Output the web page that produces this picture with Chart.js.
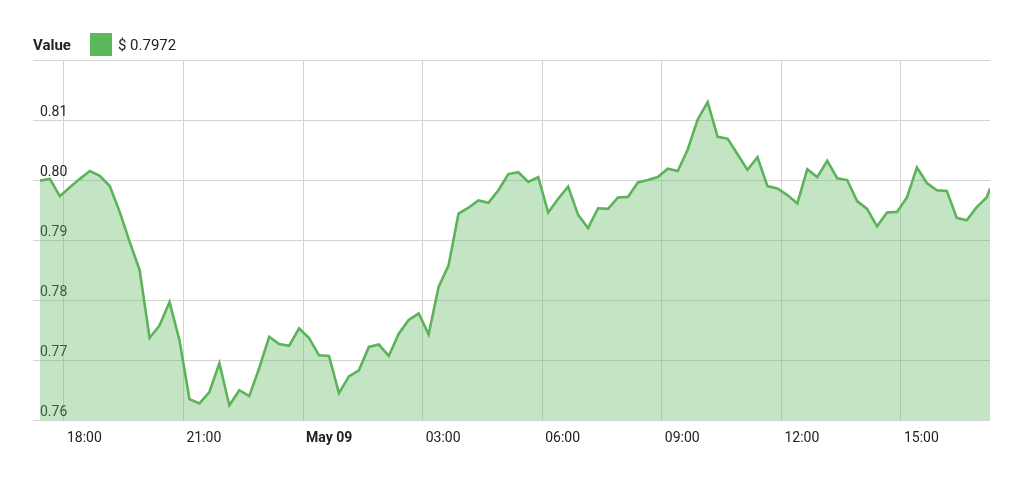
<!DOCTYPE html>
<html>
<head>
<meta charset="utf-8">
<script src="https://cdn.jsdelivr.net/npm/chart.js@4/dist/chart.umd.min.js"></script>
<style>
  html, body { margin: 0; padding: 0; background: #fff; }
  #wrap { position: relative; width: 1024px; height: 480px; }
  #legend { position: absolute; left: 33px; top: 33px; height: 23px; display: flex; align-items: center;
            font-family: Roboto, sans-serif; font-size: 15px; color: #222; }
  #legend b { font-weight: 700; margin-right: 19px; }
  #legend .box { width: 22px; height: 23px; background: #5cb85c; margin-right: 6px; }
</style>
</head>
<body>
<div id="wrap">
  <canvas id="priceChart" width="1024" height="480"></canvas>
  <div id="legend"><b>Value</b><span class="box"></span><span>$ 0.7972</span></div>
</div>
<script>
// price samples, every 15 minutes from 17:24 (May 08), last one at 17:14
const startMinute = -396;   // minutes relative to May 09 00:00
const stepMinutes = 15;
const lastMinute = 1034;
const values = [
  0.7999, 0.8002, 0.7973, 0.7988, 0.8002, 0.8015, 0.8007, 0.7990, 0.7947, 0.7897,
  0.7850, 0.7737, 0.7758, 0.7797, 0.7733, 0.7635, 0.7628, 0.7647, 0.7695, 0.7625,
  0.7650, 0.7640, 0.7687, 0.7739, 0.7727, 0.7724, 0.7753, 0.7737, 0.7708, 0.7707,
  0.7645, 0.7673, 0.7683, 0.7722, 0.7726, 0.7707, 0.7744, 0.7767, 0.7778, 0.7743,
  0.7822, 0.7858, 0.7944, 0.7954, 0.7966, 0.7962, 0.7983, 0.8010, 0.8013, 0.7997,
  0.8005, 0.7946, 0.7969, 0.7989, 0.7942, 0.7920, 0.7953, 0.7952, 0.7971, 0.7972,
  0.7996, 0.8000, 0.8005, 0.8019, 0.8015, 0.8051, 0.8101, 0.8130, 0.8072, 0.8069,
  0.8043, 0.8017, 0.8038, 0.7990, 0.7986, 0.7975, 0.7961, 0.8018, 0.8005, 0.8032,
  0.8003, 0.8000, 0.7965, 0.7952, 0.7923, 0.7946, 0.7947, 0.7971, 0.8021, 0.7995,
  0.7983, 0.7982, 0.7937, 0.7933, 0.7955, 0.7971, 0.7986
];
const tickMinutes = [-360, -180, 0, 180, 360, 540, 720, 900];
const tickLabels = ["18:00", "21:00", "May 09", "03:00", "06:00", "09:00", "12:00", "15:00"];
const yTicks = [0.76, 0.77, 0.78, 0.79, 0.80, 0.81, 0.82];

const points = values.map((v, i) => ({
  x: i === values.length - 1 ? lastMinute : startMinute + i * stepMinutes,
  y: v
}));

const ctx = document.getElementById("priceChart").getContext("2d");

new Chart(ctx, {
  type: "line",
  data: {
    datasets: [{
      label: "Value",
      data: points,
      borderColor: "#5cb35a",
      borderWidth: 2.6,
      backgroundColor: "rgba(92,184,92,0.37)",
      fill: "start",
      pointRadius: 0,
      tension: 0
    }]
  },
  options: {
    responsive: false,
    animation: false,
    layout: { padding: { left: 33, right: 34, top: 60, bottom: 23 } },
    plugins: { legend: { display: false }, tooltip: { enabled: false } },
    scales: {
      x: {
        type: "linear",
        min: startMinute,
        max: lastMinute,
        afterBuildTicks: axis => { axis.ticks = tickMinutes.map(v => ({ value: v })); },
        grid: { color: "#d4d4d4", drawTicks: false },
        border: { display: false },
        ticks: {
          align: "start",
          labelOffset: 3,
          padding: 10,
          maxRotation: 0,
          color: "#222",
          font: c => ({ family: "Roboto", size: 14, weight: c.tick && c.tick.value === 0 ? "bold" : "normal" }),
          callback: v => tickLabels[tickMinutes.indexOf(v)]
        }
      },
      y: {
        min: 0.76,
        max: 0.82,
        afterBuildTicks: axis => { axis.ticks = yTicks.map(v => ({ value: v })); },
        grid: { color: "#d4d4d4", tickLength: 7 },
        border: { display: false },
        ticks: {
          mirror: true,
          padding: 0,
          labelOffset: -8,
          color: "#222",
          font: { family: "Roboto", size: 14 },
          callback: v => (v >= 0.815 ? "" : v.toFixed(2))
        }
      }
    }
  }
});
</script>
</body>
</html>
